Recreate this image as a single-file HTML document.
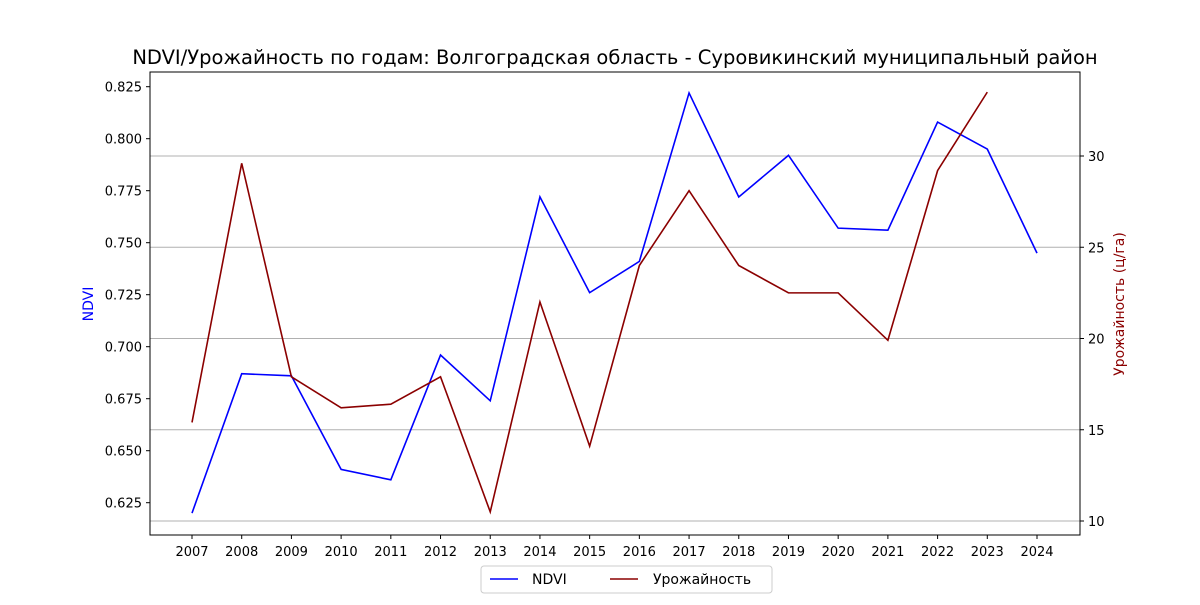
<!DOCTYPE html>
<html><head><meta charset="utf-8"><style>
body{margin:0;background:#fff;}
svg text{font-family:"DejaVu Sans","Liberation Sans",sans-serif;}
</style></head><body>
<svg id="chart" width="1200" height="600" xmlns="http://www.w3.org/2000/svg">
<text x="615" y="64" font-size="19.5" text-anchor="middle">NDVI/Урожайность по годам: Волгоградская область - Суровикинский муниципальный район</text>
<g id="grid"></g><g id="lines"></g><g id="axes"></g>
<rect x="150" y="72" width="930" height="463" fill="none" stroke="#000" stroke-width="1"/>
<text transform="translate(93,304) rotate(-90)" font-size="14" fill="#0000ff" text-anchor="middle">NDVI</text>
<text transform="translate(1124,304) rotate(-90)" font-size="14" fill="#8b0000" text-anchor="middle">Урожайность (ц/га)</text>
<g>
<rect x="481" y="566" width="291" height="27" rx="3" fill="#fff" stroke="#ccc"/>
<line x1="490" y1="579" x2="518" y2="579" stroke="#0000ff" stroke-width="1.6"/>
<text x="532" y="584" font-size="14">NDVI</text>
<line x1="610" y1="579" x2="638" y2="579" stroke="#8b0000" stroke-width="1.6"/>
<text x="653" y="584" font-size="14">Урожайность</text>
</g>
</svg>
<script>
const years=[2007,2008,2009,2010,2011,2012,2013,2014,2015,2016,2017,2018,2019,2020,2021,2022,2023,2024];
const ndvi=[0.620,0.687,0.686,0.641,0.636,0.696,0.674,0.772,0.726,0.741,0.822,0.772,0.792,0.757,0.756,0.808,0.795,0.745];
const yieldVals=[15.4,29.6,17.9,16.2,16.4,17.9,10.5,22.0,14.1,24.0,28.1,24.0,22.5,22.5,19.9,29.2,33.5];
const leftTicks=[0.625,0.650,0.675,0.700,0.725,0.750,0.775,0.800,0.825];
const rightTicks=[10,15,20,25,30];
const NS="http://www.w3.org/2000/svg";
const xS=y=>192+(y-2007)*(1037-192)/17;
const yL=v=>86.7+(0.825-v)/0.025*52.0;
const yR=v=>156+(30-v)*18.25;
function mk(t,a,p){const e=document.createElementNS(NS,t);for(const k in a)e.setAttribute(k,a[k]);p.appendChild(e);return e;}
const grid=document.getElementById('grid'),axes=document.getElementById('axes'),lines=document.getElementById('lines');
rightTicks.forEach(v=>{
 const y=yR(v);
 const g=mk('line',{x1:150,x2:1080,y1:y,y2:y,stroke:'#b0b0b0','stroke-width':1},grid);
 
 
 mk('line',{x1:1080,x2:1084,y1:y,y2:y,stroke:'#000'},axes);
 const t=mk('text',{x:1088,y:y+5,'font-size':13},axes);t.textContent=v;
 
 
});
leftTicks.forEach(v=>{
 const y=yL(v);
 mk('line',{x1:146,x2:150,y1:y,y2:y,stroke:'#000'},axes);
 const t=mk('text',{x:142,y:y+5,'font-size':13,'text-anchor':'end'},axes);t.textContent=v.toFixed(3);
 
 
});
years.forEach(yr=>{
 const x=xS(yr);
 mk('line',{x1:x,x2:x,y1:535,y2:539,stroke:'#000'},axes);
 const t=mk('text',{x:x,y:556,'font-size':13,'text-anchor':'middle'},axes);t.textContent=yr;
 
 
});
const p1=mk('polyline',{points:ndvi.map((v,i)=>xS(years[i])+','+yL(v)).join(' '),fill:'none',stroke:'#0000ff','stroke-width':1.6},lines);


const p2=mk('polyline',{points:yieldVals.map((v,i)=>xS(years[i])+','+yR(v)).join(' '),fill:'none',stroke:'#8b0000','stroke-width':1.6},lines);


</script>
</body></html>
